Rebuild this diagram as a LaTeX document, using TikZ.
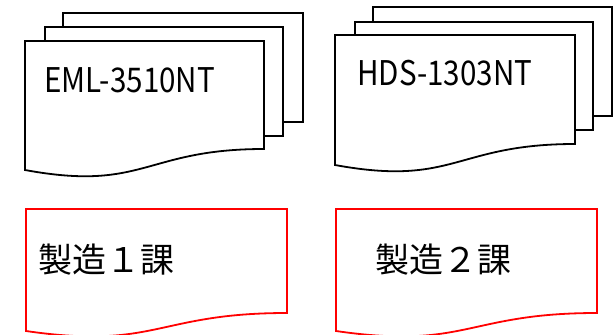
\documentclass[tikz,border=0pt]{standalone}
\usepackage{fontspec}
\usepackage{graphicx}
\usepackage{tikz}
\newfontfamily\jpfont{Noto Sans CJK JP}
\definecolor{sheetred}{RGB}{255,0,0}

\begin{document}
\begin{tikzpicture}[x=1pt,y=-1pt,
    sheet/.style={draw=black,fill=white,line width=1.8pt,line join=miter},
    redsheet/.style={draw=sheetred,fill=white,line width=1.8pt,line join=miter},
    label/.style={anchor=base west,inner sep=0pt,font=\jpfont\fontsize{34}{40}\selectfont}]
    \useasboundingbox (0,0) rectangle (614,335);
    \clip (0,0) rectangle (614,335);
    % left stack
    \draw[sheet] (63,13) rectangle (303,122);
    \draw[sheet] (45,27) rectangle (283,136);
    \draw[sheet] (25,41) -- (264,41) -- (264,149)
      .. controls (144.5,149) and (144.5,192) .. (25,170) -- cycle;
    \node[label] (eml) at (44,92) {\scalebox{0.87}[1]{EML-3510NT}};
    % right stack
    \draw[sheet] (373,7) rectangle (612,116);
    \draw[sheet] (355,22) rectangle (593,130);
    \draw[sheet] (335,35) -- (575,35) -- (575,144)
      .. controls (455,144) and (455,187) .. (335,165) -- cycle;
    \node[label] (hds) at (357,85) {\scalebox{0.87}[1]{HDS-1303NT}};
    % sections
    \draw[redsheet] (26,209) -- (287,209) -- (287,313)
      .. controls (156.5,313) and (156.5,350) .. (26,331) -- cycle;
    \node[label] (sec1) at (38,272.5) {製造１課};
    \draw[redsheet] (336,209) -- (597,209) -- (597,313)
      .. controls (466.5,313) and (466.5,350) .. (336,331) -- cycle;
    \node[label] (sec2) at (375,272.5) {製造２課};
  \end{tikzpicture}
\end{document}
